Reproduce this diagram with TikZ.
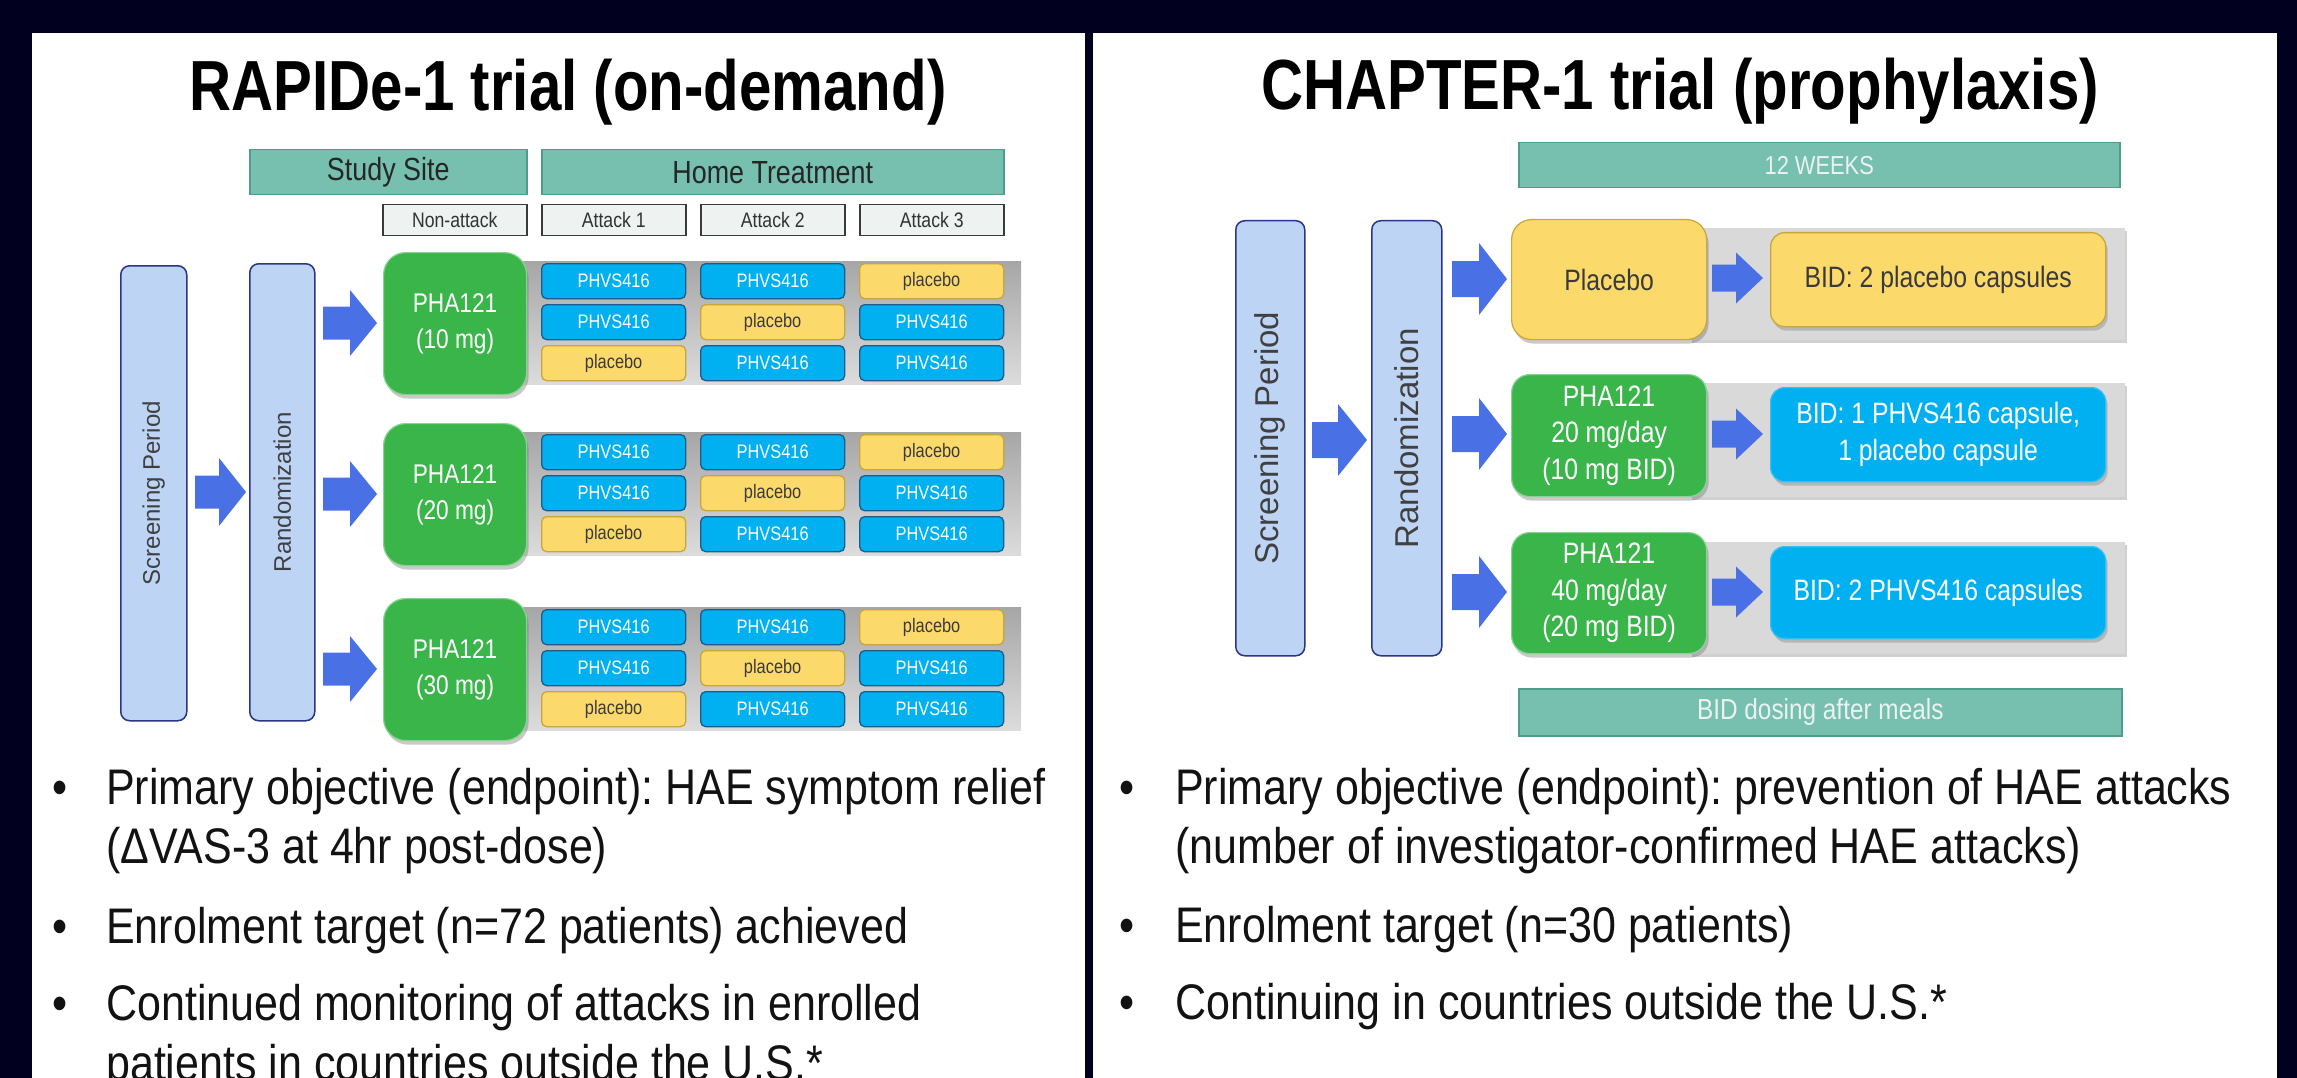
\documentclass[tikz,border=0pt]{standalone}
\usepackage{fontspec}
\setmainfont{Liberation Sans}
\newfontfamily\condf[FakeStretch=0.84]{Liberation Sans}
\newfontfamily\titlef[FakeStretch=0.82]{Liberation Sans}
\newfontfamily\bodyf[FakeStretch=0.86]{Liberation Sans}
\usetikzlibrary{shadows}
\frenchspacing
\definecolor{bgdark}{HTML}{01001F}
\definecolor{tealc}{HTML}{77BFAE}
\definecolor{tealb}{HTML}{4E9D8B}
\definecolor{hdrgray}{HTML}{EEF2F1}
\definecolor{hdrb}{HTML}{3A3A3A}
\definecolor{grnc}{HTML}{3AB54A}
\definecolor{cyanc}{HTML}{00B0F0}
\definecolor{cyanb}{HTML}{1A5C8C}
\definecolor{yelc}{HTML}{FCD96B}
\definecolor{yelb}{HTML}{C9A53A}
\definecolor{lbluec}{HTML}{BDD4F5}
\definecolor{navyb}{HTML}{2C3587}
\definecolor{arrowc}{HTML}{4A70E6}
\definecolor{labgray}{HTML}{404040}
\definecolor{darktext}{HTML}{3A3A3A}
\definecolor{stripdark}{HTML}{A6A6A6}
\definecolor{striplight}{HTML}{DCDCDC}
\definecolor{stripc}{HTML}{D9D9D9}
\definecolor{lighttext}{HTML}{EAF3F0}
\newcommand\tphv{PHVS416}
\newcommand\tplc{placebo}
\tikzset{
  hdr/.style={draw=tealb, fill=tealc, line width=1.5pt, inner sep=0pt, anchor=north west,
    text=black!85, font=\condf\fontsize{32}{36}\selectfont},
  subhdr/.style={draw=hdrb, fill=hdrgray, line width=1.5pt, inner sep=0pt, anchor=north west,
    minimum width=144pt, minimum height=31pt, text=black!80, font=\condf\fontsize{21}{24}\selectfont},
  barbox/.style={draw=navyb, fill=lbluec, line width=1.5pt, rounded corners=9pt, inner sep=0pt, anchor=north west},
  barlab/.style={rotate=90, text=labgray},
  grnbox/.style={fill=grnc, draw=grnc!60!white, line width=1.2pt, inner sep=0pt, anchor=north west,
    text=white, align=center,
    drop shadow={shadow xshift=2pt, shadow yshift=-4pt, opacity=0.35, fill=black!60}},
  cellbox/.style={rounded corners=5pt, line width=1.3pt, inner sep=0pt, anchor=north west,
    minimum width=144pt, minimum height=35pt, font=\condf\fontsize{19.5}{22}\selectfont},
  phv/.style={cellbox, fill=cyanc, draw=cyanb, text=white},
  plc/.style={cellbox, fill=yelc, draw=yelb, text=darktext},
  rbox/.style={rounded corners=14pt, line width=1.3pt, inner sep=0pt, anchor=north west, align=center,
    font=\condf\fontsize{29.5}{37}\selectfont,
    drop shadow={shadow xshift=2pt, shadow yshift=-4pt, opacity=0.3, fill=black!60}},
  pics/barrow/.style args={#1/#2/#3/#4}{code={
    \fill[arrowc] (0,-#3) -- ({#1-#2},-#3) -- ({#1-#2},-#4) -- (#1,0) -- ({#1-#2},#4) -- ({#1-#2},#3) -- (0,#3) -- cycle;}},
  bodytext/.style={anchor=base west, inner sep=0pt, text=black!93, font=\bodyf\fontsize{50}{59}\selectfont},
  bullet/.style={anchor=base, inner sep=0pt, text=black!93, font=\bodyf\fontsize{50}{59}\selectfont},
  ttl/.style={anchor=base, inner sep=0pt, text=black, font=\titlef\bfseries\fontsize{71}{80}\selectfont}
}
\begin{document}
\begin{tikzpicture}[x=1pt,y=-1pt]
\useasboundingbox (0,0) rectangle (2297,1078);
\fill[bgdark] (0,0) rectangle (2297,1078);
\fill[white] (32,33) rectangle (1085,1078);
\fill[white] (1093,33) rectangle (2277,1078);

% ================= LEFT PANEL =================
\node[ttl] (ltitle) at (568,111) {RAPIDe-1 trial (on-demand)};

\node[hdr, minimum width=277pt, minimum height=45pt] (study) at (249,149) {Study Site};
\node[hdr, minimum width=462pt, minimum height=45pt] (home) at (541,149) {Home Treatment};
\node[subhdr] (nonatt) at (382,204) {Non-attack};
\node[subhdr] (att1) at (541,204) {Attack 1};
\node[subhdr] (att2) at (700,204) {Attack 2};
\node[subhdr] (att3) at (859,204) {Attack 3};

\node[barbox, minimum width=66pt, minimum height=455pt] (lscreen) at (120,265) {};
\node[barlab, font=\fontsize{24}{28}\selectfont] (lscreent) at (lscreen.center) {Screening Period};
\node[barbox, minimum width=65pt, minimum height=457pt] (lrand) at (249,263) {};
\node[barlab, font=\fontsize{24}{28}\selectfont] (lrandt) at (lrand.center) {Randomization};
\pic (la0) at (195,492) {barrow=51/27/16.5/34};

\foreach \g/\gy/\dose in {1/263/10,2/434/20,3/609/30}{
  \shade[top color=stripdark, bottom color=striplight] (515,{\gy-2}) rectangle (1021,{\gy+121});
  \node[grnbox, rounded corners=22pt, minimum width=143pt, minimum height=142pt,
        font=\condf\fontsize{27}{36}\selectfont] (lg\g) at (383,{\gy-11}) {PHA121\\(\dose{} mg)};
  \pic (la\g) at (323,{\gy+60}) {barrow=54/27/16.5/33};
  \foreach \r/\ka/\kb/\kc in {0/phv/phv/plc,1/phv/plc/phv,2/plc/phv/phv}{
    \node[\ka] (c\g\r a) at (541,{\gy+41*\r}) {\csname t\ka\endcsname};
    \node[\kb] (c\g\r b) at (700,{\gy+41*\r}) {\csname t\kb\endcsname};
    \node[\kc] (c\g\r c) at (859,{\gy+41*\r}) {\csname t\kc\endcsname};
  }
}

\node[bullet] (lb1) at (60,804) {•};
\node[bodytext] (ll1) at (106,804) {Primary objective (endpoint): HAE symptom relief};
\node[bodytext] (ll2) at (106,863) {(ΔVAS-3 at 4hr post-dose)};
\node[bullet] (lb2) at (60,943) {•};
\node[bodytext] (ll3) at (106,943) {Enrolment target (n=72 patients) achieved};
\node[bullet] (lb3) at (60,1020) {•};
\node[bodytext] (ll4) at (106,1020) {Continued monitoring of attacks in enrolled};
\node[bodytext] (ll5) at (106,1080) {patients in countries outside the U.S.*};

% ================= RIGHT PANEL =================
\node[ttl] (rtitle) at (1680,110) {CHAPTER-1 trial (prophylaxis)};

\node[hdr, minimum width=601pt, minimum height=45pt, text=lighttext,
      font=\condf\fontsize{26}{30}\selectfont] (weeks) at (1518,142) {12 WEEKS};
\node[hdr, minimum width=603pt, minimum height=47pt, text=lighttext,
      font=\condf\fontsize{29}{32}\selectfont] (meals) at (1518,688) {BID dosing after meals};

\node[barbox, minimum width=69pt, minimum height=435pt] (rscreen) at (1235,220) {};
\node[barlab, font=\fontsize{33}{38}\selectfont] (rscreent) at (rscreen.center) {Screening Period};
\node[barbox, minimum width=70pt, minimum height=435pt] (rrand) at (1371,220) {};
\node[barlab, font=\fontsize{33}{38}\selectfont] (rrandt) at (rrand.center) {Randomization};
\pic (ra0) at (1312,440) {barrow=55/29/18/36};

\fill[stripc, drop shadow={shadow xshift=2pt, shadow yshift=-3pt, opacity=0.3, fill=black!60}] (1690,228) rectangle (2125,340);
\fill[stripc, drop shadow={shadow xshift=2pt, shadow yshift=-3pt, opacity=0.3, fill=black!60}] (1690,383) rectangle (2125,497);
\fill[stripc, drop shadow={shadow xshift=2pt, shadow yshift=-3pt, opacity=0.3, fill=black!60}] (1690,542) rectangle (2125,654);

\node[grnbox, rounded corners=20pt, fill=yelc, draw=yelb, text=darktext, minimum width=195pt, minimum height=120pt,
      font=\condf\fontsize{29.5}{37}\selectfont] (rplac) at (1511,219) {Placebo};
\node[grnbox, rounded corners=18pt, minimum width=195pt, minimum height=122pt,
      font=\condf\fontsize{29.5}{36.5}\selectfont] (rg20) at (1511,374) {PHA121\\20 mg/day\\(10 mg BID)};
\node[grnbox, rounded corners=18pt, minimum width=195pt, minimum height=121pt,
      font=\condf\fontsize{29.5}{36.5}\selectfont] (rg40) at (1511,532) {PHA121\\40 mg/day\\(20 mg BID)};

\pic (ra1) at (1452,279) {barrow=55/28/18/36};
\pic (ra2) at (1452,434) {barrow=55/28/18/36};
\pic (ra3) at (1452,592) {barrow=55/28/18/36};
\pic (rs1) at (1712,278) {barrow=51/27/13.5/25.5};
\pic (rs2) at (1712,434) {barrow=51/27/13.5/25.5};
\pic (rs3) at (1712,592) {barrow=51/27/13.5/25.5};

\node[rbox, fill=yelc, draw=yelb, text=darktext, minimum width=335pt, minimum height=94pt] (rb1) at (1770,232) {BID: 2 placebo capsules};
\node[rbox, fill=cyanc, draw=cyanc!80!white, text=white, minimum width=335pt, minimum height=94pt] (rb2) at (1770,387) {BID: 1 PHVS416 capsule,\\1 placebo capsule};
\node[rbox, fill=cyanc, draw=cyanc!80!white, text=white, minimum width=335pt, minimum height=92pt] (rb3) at (1770,546) {BID: 2 PHVS416 capsules};

\node[bullet] (rb1d) at (1127,804) {•};
\node[bodytext] (rl1) at (1175,804) {Primary objective (endpoint): prevention of HAE attacks};
\node[bodytext] (rl2) at (1175,863) {(number of investigator-confirmed HAE attacks)};
\node[bullet] (rb2d) at (1127,942) {•};
\node[bodytext] (rl3) at (1175,942) {Enrolment target (n=30 patients)};
\node[bullet] (rb3d) at (1127,1019) {•};
\node[bodytext] (rl4) at (1175,1019) {Continuing in countries outside the U.S.*};
\end{tikzpicture}
\end{document}
